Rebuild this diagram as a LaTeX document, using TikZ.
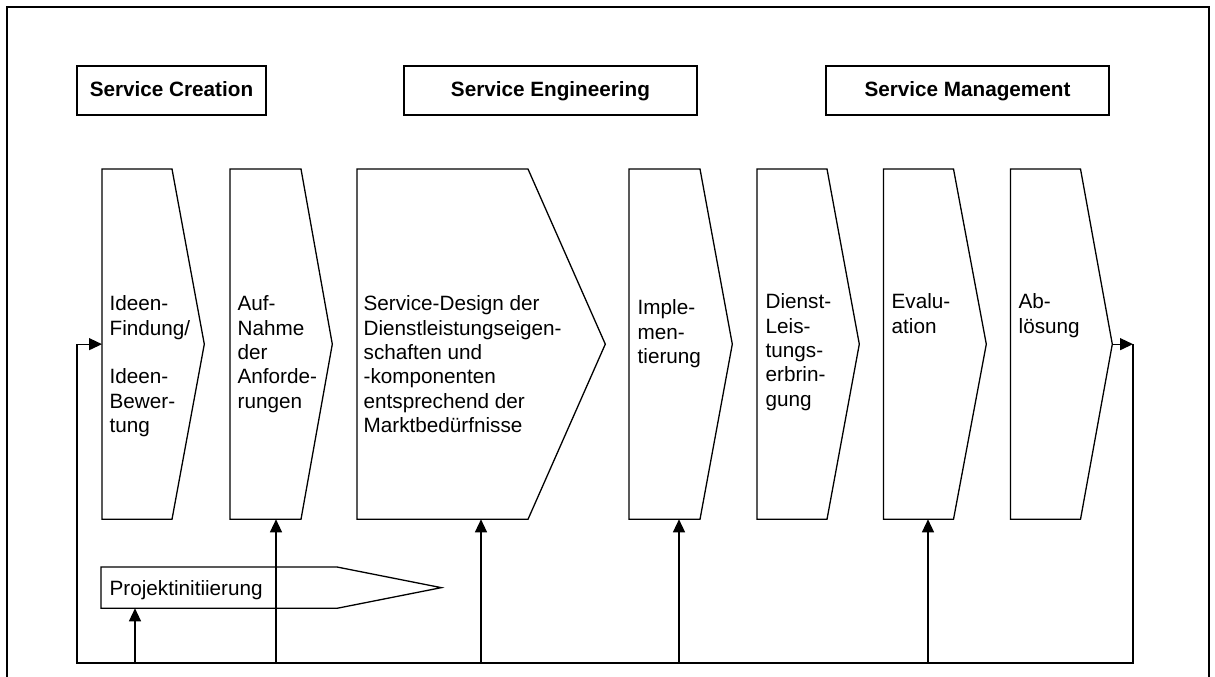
\documentclass[tikz,border=0pt]{standalone}
\usepackage{fontspec}
\setmainfont{Liberation Sans}
\usetikzlibrary{arrows.meta,calc}
\newcommand\mychev[4]{% name, left x, width, inset
  \node[chevbox, minimum width=#3pt] (#1) at (#2,169) {};
  \draw (#1.north west) -- ++(#4,0) -- (#1.east) -- ($(#1.south west)+(#4,0)$) -- (#1.south west) -- cycle;
}
\begin{document}
\begin{tikzpicture}[x=1pt,y=-1pt,
  every node/.style={font=\fontsize{20.7}{24.4}\selectfont},
  line width=1.3pt, line join=miter,
  frame/.style={line width=2pt},
  header/.style={draw, line width=1.6pt, minimum height=49pt, inner sep=0pt,
    text height=15pt, text depth=4pt, font=\fontsize{20.7}{24.4}\selectfont\bfseries},
  chevbox/.style={inner sep=0pt, minimum height=349pt, anchor=north west},
  ctext/.style={inner sep=0pt, anchor=north west, align=left},
  arr/.style={-{Triangle[length=13pt,width=12pt]}},
]
\useasboundingbox (0,0) rectangle (1215,677);
% outer frame
\draw[frame] (7,677) -- (7,7) -- (1209,7) -- (1209,677);

% headers
\node[header, minimum width=189pt] (h1) at (171.5,90.5) {Service Creation};
\node[header, minimum width=293pt] (h2) at (550.5,90.5) {Service Engineering};
\node[header, minimum width=283pt] (h3) at (967.5,90.5) {Service Management};

% chevrons
\mychev{c1}{102}{101}{70}
\mychev{c2}{230}{101}{71}
\mychev{c3}{357}{247}{171}
\mychev{c4}{629}{102}{71}
\mychev{c5}{757}{101}{70}
\mychev{c6}{883.5}{101.5}{70}
\mychev{c7}{1010.5}{100.5}{70}

% chevron texts
\node[ctext] (t1) at (109,294) {\rule{0pt}{16pt}Ideen-\\Findung/\\[24.4pt]Ideen-\\Bewer-\\tung};
\node[ctext] (t2) at (237,294) {\rule{0pt}{16pt}Auf-\\Nahme\\der\\Anforde-\\rungen};
\node[ctext] (t3) at (363,294) {\rule{0pt}{16pt}Service-Design der\\Dienstleistungseigen-\\schaften und\\-komponenten\\entsprechend der\\Marktbedürfnisse};
\node[ctext] (t4) at (637,298) {\rule{0pt}{16pt}Imple-\\men-\\tierung};
\node[ctext] (t5) at (765,292) {\rule{0pt}{16pt}Dienst-\\Leis-\\tungs-\\erbrin-\\gung};
\node[ctext] (t6) at (891,292) {\rule{0pt}{16pt}Evalu-\\ation};
\node[ctext] (t7) at (1018,292) {\rule{0pt}{16pt}Ab-\\lösung};

% Projektinitiierung
\node[chevbox, minimum width=339pt, minimum height=40pt] (p) at (101,567) {};
\draw (p.north west) -- ++(236,0) -- (p.east) -- ($(p.south west)+(236,0)$) -- (p.south west) -- cycle;
\node[inner sep=0pt, anchor=base west] (pt) at (109,595) {Projektinitiierung};

% feedback loop
\coordinate (br) at (1133,663);
\coordinate (bl) at (77,663);
\draw[arr] (c7.east) -- (c7.east -| br);
\draw (c7.east -| br) -- (br) -- (bl) -- (bl |- c1.west);
\draw[arr] (bl |- c1.west) -- (c1.west);

% vertical arrows
\coordinate (a1) at (135,663);
\coordinate (a2) at (276,663);
\coordinate (a3) at (481,663);
\coordinate (a4) at (679,663);
\coordinate (a5) at (928,663);
\draw[arr] (a1) -- (a1 |- p.south);
\draw[arr] (a2) -- (a2 |- c2.south);
\draw[arr] (a3) -- (a3 |- c3.south);
\draw[arr] (a4) -- (a4 |- c4.south);
\draw[arr] (a5) -- (a5 |- c6.south);
\end{tikzpicture}
\end{document}
